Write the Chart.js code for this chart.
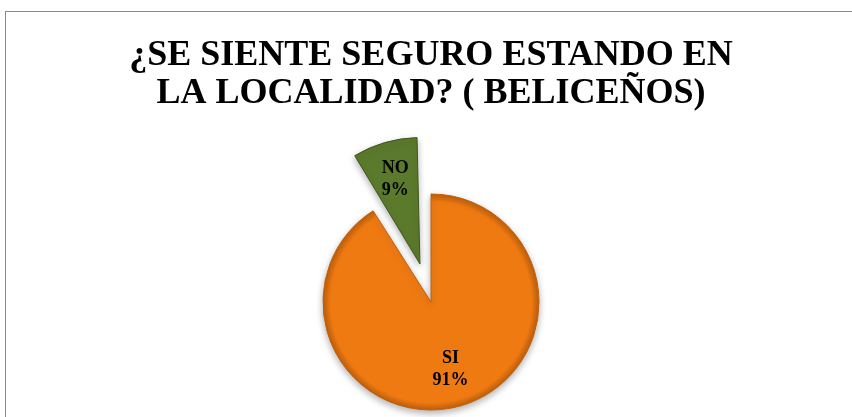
<!DOCTYPE html>
<html>
<head>
<meta charset="utf-8">
<script src="https://cdn.jsdelivr.net/npm/chart.js@4.4.1/dist/chart.umd.min.js"></script>
<style>
  html, body { margin: 0; padding: 0; background: #fff; }
  #wrap { width: 852px; height: 417px; }
</style>
</head>
<body>
<div id="wrap"><canvas id="pieChart" width="852" height="417"></canvas></div>
<script>
const titleLines = ['¿SE SIENTE SEGURO ESTANDO EN', 'LA LOCALIDAD? ( BELICEÑOS)'];
const categories = ['SI', 'NO'];
const values = [91, 9];
const sliceColors = ['#F07A12', '#5C7A2C'];
const edgeColors = ['#C0600C', '#3E561C'];
const explode = [0, 58]; // visible shift in px

const serif = "'Liberation Serif', 'Times New Roman', serif";
const total = values.reduce((a, b) => a + b, 0);

// Chart.js arcs move by offset/4 * (2 - sin(circumference)), so convert px to its offset
const arcOffsets = values.map((v, i) => {
    const circ = 2 * Math.PI * v / total;
    const fix = 1 - Math.sin(Math.min(Math.PI, circ));
    return explode[i] * 4 / (1 + fix);
});

// gradient fill to mimic the soft bevel of the original
function sliceFill(context) {
    const chart = context.chart;
    const area = chart.chartArea;
    const i = context.dataIndex;
    if (!area) return sliceColors[i];
    const cx = (area.left + area.right) / 2;
    const cy = (area.top + area.bottom) / 2;
    let before = 0;
    for (let k = 0; k < i; k++) before += values[k];
    const mid = -Math.PI / 2 + 2 * Math.PI * (before + values[i] / 2) / total;
    const ox = cx + explode[i] * Math.cos(mid);
    const oy = cy + explode[i] * Math.sin(mid);
    const g = chart.ctx.createRadialGradient(ox, oy, 0, ox, oy, 108);
    g.addColorStop(0, sliceColors[i]);
    g.addColorStop(0.93, sliceColors[i]);
    g.addColorStop(1, edgeColors[i]);
    return g;
}

const frame = {
    id: 'frame',
    beforeDraw(chart) {
        const c = chart.ctx;
        c.save();
        c.strokeStyle = '#8a8a8a';
        c.lineWidth = 1;
        c.strokeRect(5.5, 11.5, 900, 500);
        c.restore();
    }
};

const shadow = {
    id: 'shadow',
    beforeDatasetsDraw(chart) {
        const c = chart.ctx;
        c.save();
        c.shadowColor = 'rgba(0,0,0,0.3)';
        c.shadowBlur = 7;
        c.shadowOffsetY = 3;
    },
    afterDatasetsDraw(chart) {
        chart.ctx.restore();
    }
};

const sliceLabels = {
    id: 'sliceLabels',
    afterDatasetsDraw(chart) {
        const c = chart.ctx;
        const meta = chart.getDatasetMeta(0);
        c.save();
        c.fillStyle = '#000';
        c.font = 'bold 18px ' + serif;
        c.textAlign = 'center';
        c.textBaseline = 'middle';
        meta.data.forEach((arc, i) => {
            const p = arc.getProps(['x', 'y', 'startAngle', 'endAngle', 'outerRadius'], true);
            const mid = (p.startAngle + p.endAngle) / 2;
            const d = explode[i] + p.outerRadius * 0.65;
            const x = p.x + Math.cos(mid) * d;
            const y = p.y + Math.sin(mid) * d;
            const pct = Math.round(values[i] / total * 100) + '%';
            c.fillText(categories[i], x, y - 11);
            c.fillText(pct, x, y + 11);
        });
        c.restore();
    }
};

document.addEventListener("DOMContentLoaded", function () {
    const ctx = document.getElementById('pieChart').getContext('2d');
    new Chart(ctx, {
        type: 'pie',
        data: {
            labels: categories,
            datasets: [{
                data: values,
                backgroundColor: sliceFill,
                borderColor: edgeColors,
                borderWidth: 1,
                offset: arcOffsets,
                clip: false
            }]
        },
        options: {
            responsive: false,
            animation: false,
            radius: 108,
            cutout: '0%',
            layout: { padding: { left: 10, right: 0, top: 0, bottom: 0 } },
            plugins: {
                legend: { display: false },
                tooltip: { enabled: false },
                title: {
                    display: true,
                    text: titleLines,
                    color: '#000',
                    font: { family: serif, size: 36, weight: 'bold', lineHeight: 38 / 36 },
                    padding: { top: 37, bottom: 74 }
                }
            }
        },
        plugins: [frame, shadow, sliceLabels]
    });
});
</script>
</body>
</html>
